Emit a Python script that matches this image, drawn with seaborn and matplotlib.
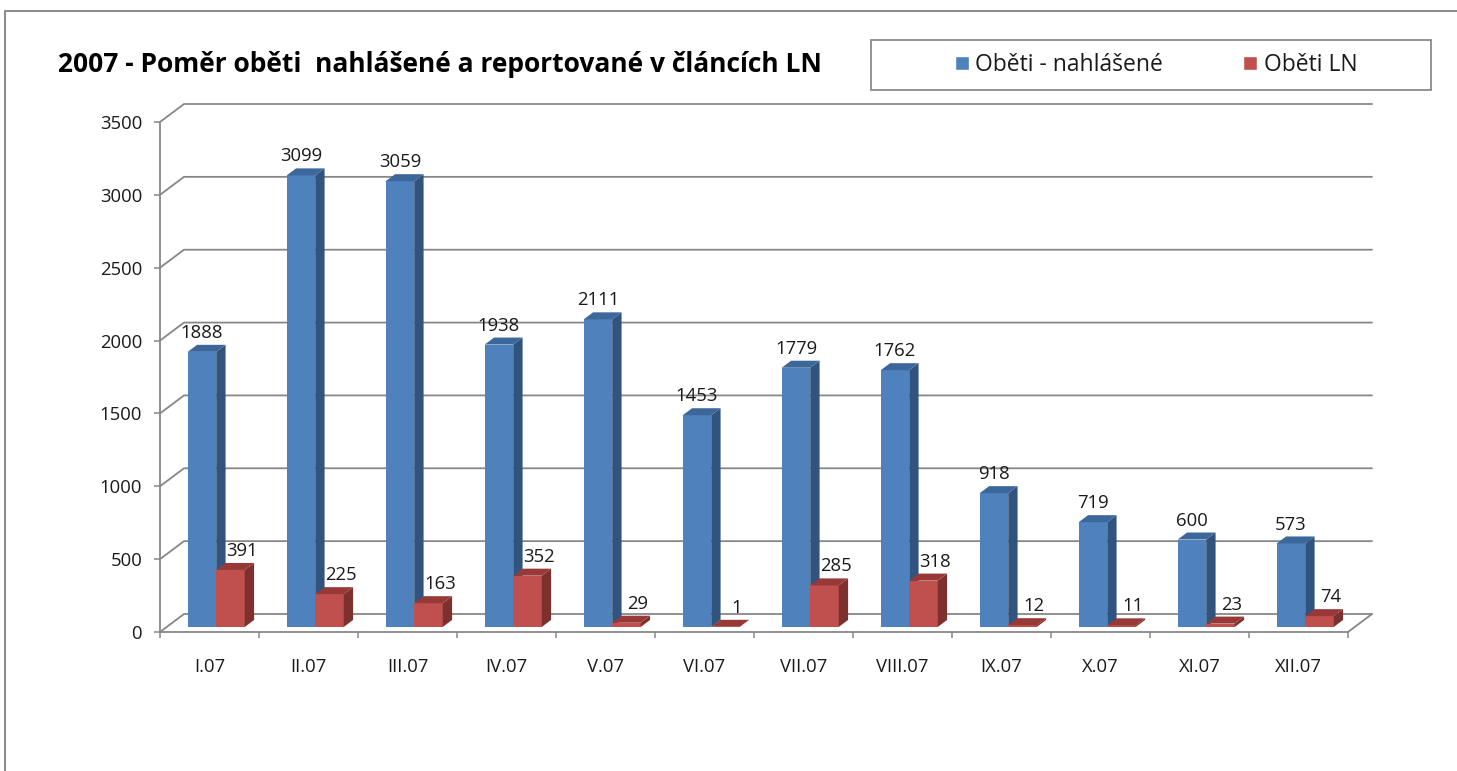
import numpy as np
import pandas as pd
import matplotlib
matplotlib.use("Agg")
import matplotlib.pyplot as plt
from matplotlib.patches import Polygon, Rectangle
from matplotlib.lines import Line2D
from matplotlib.transforms import offset_copy
import seaborn as sns

# ---- data ----
months = ["I.07", "II.07", "III.07", "IV.07", "V.07", "VI.07",
          "VII.07", "VIII.07", "IX.07", "X.07", "XI.07", "XII.07"]
reported = [1888, 3099, 3059, 1938, 2111, 1453, 1779, 1762, 918, 719, 600, 573]
in_ln = [391, 225, 163, 352, 29, 1, 285, 318, 12, 11, 23, 74]
series_names = ["Oběti - nahlášené", "Oběti LN"]
title = "2007 - Poměr oběti  nahlášené a reportované v článcích LN"
y_ticks = [0, 500, 1000, 1500, 2000, 2500, 3000, 3500]

df = pd.DataFrame({
    "month": months * 2,
    "series": [series_names[0]] * len(months) + [series_names[1]] * len(months),
    "value": reported + in_ln,
})

# ---- style ----
sns.set_theme(style="white")
plt.rcParams["font.family"] = ["Open Sans", "DejaVu Sans"]

W, H = 1457, 771
DPI = 100
fig = plt.figure(figsize=(W / DPI, H / DPI), dpi=DPI)
fig.patch.set_facecolor("white")

# front plane of the plot box (pixels)
X0, X1 = 160, 1348
Y0, Y1 = 632, 122
ax = fig.add_axes([X0 / W, (H - Y0) / H, (X1 - X0) / W, (Y0 - Y1) / H])

face = {"front": ["#4F81BD", "#C0504D"],
        "side": ["#31547F", "#7E302E"],
        "top": ["#3C679B", "#973A37"]}
GRID = "#878787"
TXT = "#1a1a1a"
FS = 13.3

sns.barplot(data=df, x="month", y="value", hue="series", order=months,
            hue_order=series_names, palette=face["front"], saturation=1,
            width=0.576, errorbar=None, ax=ax, legend=True)
handles, labels = ax.get_legend_handles_labels()
ax.get_legend().remove()

ax.set_xlim(-0.5, 11.5)
ax.set_ylim(0, 3500)
ax.set_xlabel("")
ax.set_ylabel("")
ax.grid(False)
ax.set_facecolor("white")

# depth of the 3D box in pixels and conversion into data units
DX, DY = 24, 18
PX_X = (X1 - X0) / 12
PX_Y = (Y0 - Y1) / 3500
F0, F1 = 0.28, 0.67  # bar front / back depth fractions


def shift(x, y, f):
    return x + f * DX / PX_X, y + f * DY / PX_Y


# back wall grid + left wall diagonals
for v in y_ticks:
    xb, yb = shift(-0.5, v, 1)
    xe, _ = shift(11.5, v, 1)
    ax.plot([-0.5, xb, xe], [v, yb, yb], color=GRID, lw=1.3,
            clip_on=False, zorder=1, solid_joinstyle="miter")
# right edge of the floor
xr, yr = shift(11.5, 0, 1)
ax.plot([11.5, xr], [0, yr], color=GRID, lw=1.3, clip_on=False, zorder=1)

# front faces come from seaborn; push them into the depth and add sides/tops
front_tr = offset_copy(ax.transData, fig=fig, x=F0 * DX, y=F0 * DY, units="dots")
for k, cont in enumerate(ax.containers):
    for bar in cont:
        bar.set_transform(front_tr)
        bar.set_clip_on(False)
        bar.set_edgecolor("none")
        bar.set_zorder(3 + k)
        x0 = bar.get_x()
        x1 = x0 + bar.get_width()
        h = bar.get_height()
        side = [shift(x1, 0, F0), shift(x1, h, F0), shift(x1, h, F1), shift(x1, 0, F1)]
        top = [shift(x0, h, F0), shift(x1, h, F0), shift(x1, h, F1), shift(x0, h, F1)]
        ax.add_patch(Polygon(side, closed=True, facecolor=face["side"][k],
                             edgecolor="none", zorder=3 + k, clip_on=False))
        ax.add_patch(Polygon(top, closed=True, facecolor=face["top"][k],
                             edgecolor="none", zorder=3 + k, clip_on=False))

# value labels
label_dx = [F0 * DX, 18]
for k, (cont, vals) in enumerate(zip(ax.containers, [reported, in_ln])):
    for bar, v in zip(cont, vals):
        xc = bar.get_x() + bar.get_width() / 2
        ax.annotate(f"{v}", xy=(xc, v), xytext=(label_dx[k], 24),
                    textcoords="offset pixels", ha="center", va="center",
                    fontsize=FS, color=TXT, zorder=6,
                    annotation_clip=False)

# axes lines and ticks
for s in ["top", "right"]:
    ax.spines[s].set_visible(False)
for s in ["left", "bottom"]:
    ax.spines[s].set_color(GRID)
    ax.spines[s].set_linewidth(1.3)
    ax.spines[s].set_zorder(2)

ax.set_yticks(y_ticks)
ax.set_yticklabels([str(t) for t in y_ticks])
ax.tick_params(axis="y", which="major", left=True, length=4.3, width=1.1,
               color=GRID, pad=8.5, labelsize=FS, labelcolor=TXT)
ax.set_xticks(np.arange(12))
ax.set_xticklabels(months)
ax.set_xticks(np.arange(-0.5, 12, 1), minor=True)
ax.tick_params(axis="x", which="major", bottom=True, length=0, pad=19,
               labelsize=FS, labelcolor=TXT)
ax.tick_params(axis="x", which="minor", bottom=True, length=4.3, width=1.1,
               color=GRID)

# title
fig.text(58 / W, 1 - 64 / H, title, fontsize=19, fontweight="bold",
         ha="left", va="center", color="#000000")

# legend with its box
fig.add_artist(Rectangle((871 / W, (H - 90) / H), 560 / W, 50 / H,
                         transform=fig.transFigure, facecolor="white",
                         edgecolor="#8a8a8a", lw=1.3))
fig.legend(handles, labels, loc="center", bbox_to_anchor=(1156 / W, 1 - 65 / H),
           ncol=2, frameon=False, fontsize=16.5, handlelength=0.62,
           handleheight=0.62, handletextpad=0.28, columnspacing=3.5,
           borderpad=0, labelcolor=TXT)

# chart border (left and top)
fig.add_artist(Line2D([5 / W, 5 / W, 1.0], [0.0, 1 - 10.7 / H, 1 - 10.7 / H],
                      transform=fig.transFigure, color="#8c8c8c", lw=1.5))

fig.savefig("out.png", dpi=DPI, facecolor="white")
